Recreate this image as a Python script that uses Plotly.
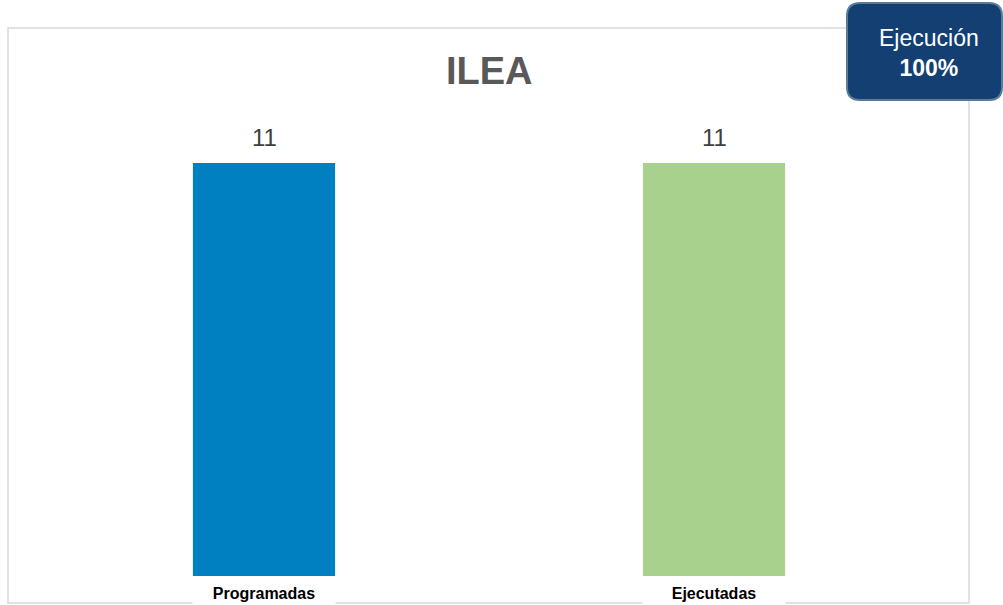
import plotly.graph_objects as go

categories = ["Programadas", "Ejecutadas"]
values = [11, 11]
colors = ["#0080C0", "#A9D18E"]
title_text = "ILEA"
badge_line1 = "Ejecución"
badge_line2 = "100%"

FONT = "Liberation Sans, Arial, sans-serif"

fig = go.Figure()
fig.add_trace(go.Bar(
    x=categories, y=values, marker=dict(color=colors, line=dict(width=0)),
    hoverinfo="skip", showlegend=False,
))

annotations = []
for c, v in zip(categories, values):
    annotations.append(dict(
        x=c, y=v, xref="x", yref="y", text=str(v), showarrow=False,
        yanchor="middle", yshift=25,
        font=dict(family=FONT, size=24, color="#404040"),
    ))
    annotations.append(dict(
        x=c, y=-0.0365, xref="x", yref="paper", text="<b>%s</b>" % c, showarrow=False,
        yanchor="middle", bgcolor="white", width=140, height=24,
        font=dict(family=FONT, size=16, color="#000000"),
    ))

annotations.append(dict(
    x=0.5, y=1.0837, xref="paper", yref="paper", text="<b>%s</b>" % title_text,
    showarrow=False, yanchor="middle",
    font=dict(family=FONT, size=38, color="#595959"),
))
annotations.append(dict(
    x=(929 - 39) / 900, y=(576 - 53) / 466, xref="paper", yref="paper",
    text="%s<br><b>%s</b>" % (badge_line1, badge_line2),
    showarrow=False, yanchor="middle", xanchor="center", align="center",
    font=dict(family=FONT, size=23, color="white"),
))

# Rounded badge path in paper coords
x0, x1 = (847 - 39) / 900, (1002 - 39) / 900
y0, y1 = (576 - 100) / 466, (576 - 3) / 466
rx, ry = 13 / 900, 13 / 466
path = (f"M {x0+rx},{y1} L {x1-rx},{y1} Q {x1},{y1} {x1},{y1-ry} "
        f"L {x1},{y0+ry} Q {x1},{y0} {x1-rx},{y0} L {x0+rx},{y0} "
        f"Q {x0},{y0} {x0},{y0+ry} L {x0},{y1-ry} Q {x0},{y1} {x0+rx},{y1} Z")

shapes = [
    dict(type="rect", xref="paper", yref="paper",
         x0=(8 - 39) / 900, x1=(969 - 39) / 900,
         y0=(576 - 603) / 466, y1=(576 - 28) / 466,
         line=dict(color="#D9D9D9", width=1.5), fillcolor="rgba(0,0,0,0)", layer="below"),
    dict(type="path", xref="paper", yref="paper", path=path,
         fillcolor="#133F73", line=dict(color="#5B7B99", width=2)),
]

fig.update_layout(
    width=1003, height=605,
    margin=dict(l=39, r=64, t=110, b=29),
    paper_bgcolor="white", plot_bgcolor="white",
    bargap=0.684,
    xaxis=dict(range=[-0.5, 1.5], showticklabels=False, showgrid=False, zeroline=False,
               showline=False, ticks=""),
    yaxis=dict(range=[0, 12.41], visible=False, showgrid=False, zeroline=False),
    annotations=annotations, shapes=shapes,
    font=dict(family=FONT),
)

fig.write_html("out.html", config={"displayModeBar": False},
               post_script="document.body.style.margin='0';document.body.style.overflow='hidden';")
